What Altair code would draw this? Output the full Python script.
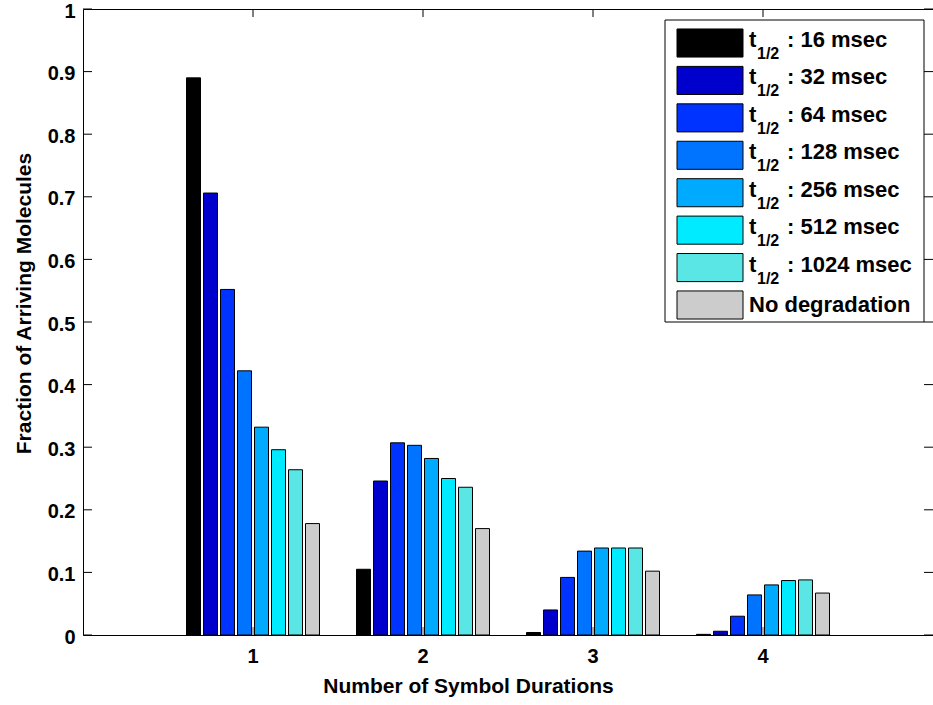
import altair as alt
import pandas as pd

# ---------------- data ----------------
groups = [1, 2, 3, 4]
series_keys = ["16", "32", "64", "128", "256", "512", "1024", "none"]
legend_labels = [": 16 msec", ": 32 msec", ": 64 msec", ": 128 msec",
                 ": 256 msec", ": 512 msec", ": 1024 msec", "No degradation"]
bar_colors = ["#000000", "#0000CD", "#0033FF", "#0073FF",
              "#00AAFF", "#00EBFF", "#5BE6E6", "#CCCCCC"]

vals_16 = [0.890, 0.105, 0.004, 0.001]
vals_32 = [0.706, 0.246, 0.040, 0.006]
vals_64 = [0.552, 0.307, 0.092, 0.030]
vals_128 = [0.422, 0.303, 0.134, 0.064]
vals_256 = [0.332, 0.282, 0.139, 0.080]
vals_512 = [0.296, 0.250, 0.139, 0.087]
vals_1024 = [0.264, 0.236, 0.139, 0.088]
vals_none = [0.178, 0.170, 0.102, 0.067]

y_tick_values = [0, 0.1, 0.2, 0.3, 0.4, 0.5, 0.6, 0.7, 0.8, 0.9, 1]
x_tick_values = [1, 2, 3, 4]

series_values = [vals_16, vals_32, vals_64, vals_128,
                 vals_256, vals_512, vals_1024, vals_none]
rows = []
for key, vals in zip(series_keys, series_values):
    for g, v in zip(groups, vals):
        rows.append({"group": g, "series": key, "value": v})
df = pd.DataFrame(rows)
legend_df = pd.DataFrame({"series": series_keys, "label": legend_labels})
ytick_df = pd.DataFrame({"value": y_tick_values})
xtick_df = pd.DataFrame({"group": x_tick_values})
box_df = pd.DataFrame({"box": [0]})

FONT = "Liberation Sans"
W, H = 850, 626

# ---------------- main plot ----------------
x_scale = alt.Scale(domain=groups, paddingInner=0.2, paddingOuter=0.6)
y_scale = alt.Scale(domain=[0, 1], nice=False, zero=True)
x_axis = alt.Axis(title="Number of Symbol Durations", labelAngle=0,
                  ticks=False, domain=False, grid=False, labelPadding=11,
                  titlePadding=9, titleX=385)
y_axis = alt.Axis(title="Fraction of Arriving Molecules",
                  values=y_tick_values, format="~g", ticks=False,
                  domain=False, grid=False, labelPadding=8, titlePadding=13,
                  titleY=294, labelOffset=2)
color_enc = alt.Color("series:N",
                      scale=alt.Scale(domain=series_keys, range=bar_colors),
                      legend=None)

bars = alt.Chart(df).mark_bar(stroke="black", strokeWidth=1).encode(
    x=alt.X("group:O", scale=x_scale, axis=x_axis),
    xOffset=alt.XOffset("series:N", sort=series_keys,
                        scale=alt.Scale(domain=series_keys,
                                        paddingInner=3 / 17,
                                        paddingOuter=1.5 / 17)),
    y=alt.Y("value:Q", scale=y_scale, axis=y_axis),
    color=color_enc,
)

ytick_left = alt.Chart(ytick_df).mark_rule(color="black").encode(
    y=alt.Y("value:Q", scale=y_scale, axis=y_axis),
    x=alt.value(0), x2=alt.value(9))
ytick_right = alt.Chart(ytick_df).mark_rule(color="black").encode(
    y=alt.Y("value:Q", scale=y_scale, axis=y_axis),
    x=alt.value(W - 9), x2=alt.value(W))
xtick_top = alt.Chart(xtick_df).mark_rule(color="black").encode(
    x=alt.X("group:O", scale=x_scale, axis=x_axis),
    y=alt.value(0), y2=alt.value(8))
xtick_bottom = alt.Chart(xtick_df).mark_rule(color="#555555").encode(
    x=alt.X("group:O", scale=x_scale, axis=x_axis),
    y=alt.value(H - 8), y2=alt.value(H))

main = alt.layer(bars, ytick_left, ytick_right, xtick_top, xtick_bottom)

# ---------------- legend ----------------
ly = alt.Y("series:N", sort=series_keys,
           scale=alt.Scale(domain=series_keys, range=[15.3, 314.7],
                           paddingInner=0.25, paddingOuter=0.125),
           axis=None)

box = alt.Chart(box_df).mark_rect(fill="white", stroke="black",
                                  strokeWidth=1).encode(
    x=alt.value(582), x2=alt.value(841), y=alt.value(11), y2=alt.value(313))

swatches = alt.Chart(legend_df).mark_rect(stroke="black", strokeWidth=1).encode(
    y=ly, x=alt.value(594), x2=alt.value(660), color=color_enc)

sub_rows = alt.datum.series != "none"
t_text = alt.Chart(legend_df).transform_filter(sub_rows).mark_text(
    text="t", align="left", baseline="middle", font=FONT, fontWeight="bold",
    fontSize=22, dy=-3, color="black").encode(y=ly, x=alt.value(666))
sub_text = alt.Chart(legend_df).transform_filter(sub_rows).mark_text(
    text="1/2", align="left", baseline="middle", font=FONT, fontWeight="bold",
    fontSize=16, dy=11, color="black").encode(y=ly, x=alt.value(674))
lab_text = alt.Chart(legend_df).transform_filter(sub_rows).mark_text(
    align="left", baseline="middle", font=FONT, fontWeight="bold",
    fontSize=22, dy=-3, color="black").encode(
    y=ly, x=alt.value(704), text="label:N")
none_text = alt.Chart(legend_df).transform_filter(
    alt.datum.series == "none").mark_text(
    align="left", baseline="middle", font=FONT, fontWeight="bold",
    fontSize=22, color="black").encode(
    y=ly, x=alt.value(666), text="label:N")

legend = alt.layer(box, swatches, t_text, sub_text, lab_text, none_text)

chart = alt.layer(main, legend).resolve_scale(y="independent").properties(
    width=W, height=H,
    padding={"left": 83, "top": 9, "right": 0, "bottom": 70},
    autosize=alt.AutoSizeParams(type="none"),
    background="white",
).configure_axis(
    labelFont=FONT, labelFontSize=20, labelFontWeight="bold",
    labelColor="black",
    titleFont=FONT, titleFontSize=21, titleFontWeight="bold",
    titleColor="black",
).configure_view(stroke="black", strokeWidth=1)

chart.save("out.html", embed_options={"renderer": "svg", "actions": False})
